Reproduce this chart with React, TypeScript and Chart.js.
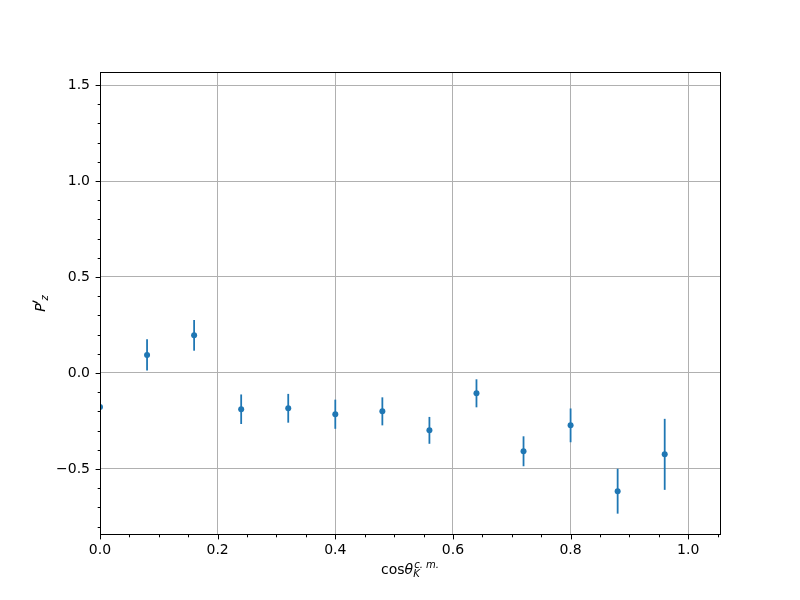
import React, { useEffect, useRef } from "react";
import { Chart, registerables } from "chart.js";

Chart.register(...registerables);

const xValues = [0, 0.08, 0.16, 0.24, 0.32, 0.4, 0.48, 0.56, 0.64, 0.72, 0.8, 0.88, 0.96];
const yValues = [-0.177, 0.094, 0.196, -0.189, -0.184, -0.215, -0.2, -0.299, -0.106, -0.408, -0.273, -0.616, -0.424];
const yErrors = [0.075, 0.081, 0.08, 0.077, 0.075, 0.076, 0.073, 0.07, 0.073, 0.078, 0.088, 0.117, 0.185];

const xTicks = [0, 0.05, 0.1, 0.15, 0.2, 0.25, 0.3, 0.35, 0.4, 0.45, 0.5, 0.55, 0.6, 0.65, 0.7, 0.75, 0.8, 0.85, 0.9, 0.95, 1.0, 1.05];
const xMajorTicks = [0, 0.2, 0.4, 0.6, 0.8, 1.0];
const yTicks = [-0.8, -0.7, -0.6, -0.5, -0.4, -0.3, -0.2, -0.1, 0, 0.1, 0.2, 0.3, 0.4, 0.5, 0.6, 0.7, 0.8, 0.9, 1.0, 1.1, 1.2, 1.3, 1.4, 1.5];
const yMajorTicks = [-0.5, 0, 0.5, 1.0, 1.5];

const X_MIN = 0;
const X_MAX = 1.054;
const Y_MIN = -0.839;
const Y_MAX = 1.568;

const COLOR = "#1f77b4";
const FONT = "DejaVu Sans";

const isMajor = (v: number, majors: number[]) => majors.some((m) => Math.abs(m - v) < 1e-9);
const fmt = (v: number) => {
  const s = Math.abs(v).toFixed(1);
  return v < -1e-9 ? "\u2212" + s : s;
};

type Piece = { text: string; font: string; dy: number; dx?: number; stackWithPrev?: boolean };

function drawPieces(ctx: CanvasRenderingContext2D, pieces: Piece[], cx: number, baseY: number) {
  const widths: number[] = [];
  pieces.forEach((p) => {
    ctx.font = p.font;
    widths.push(ctx.measureText(p.text).width + (p.dx || 0));
  });
  let total = 0;
  let prevStart = 0;
  let prevW = 0;
  const starts: number[] = [];
  pieces.forEach((p, i) => {
    if (p.stackWithPrev) {
      starts.push(prevStart);
      const extra = Math.max(0, widths[i] - prevW);
      total += extra;
      prevW = Math.max(prevW, widths[i]);
    } else {
      starts.push(total);
      prevStart = total;
      prevW = widths[i];
      total += widths[i];
    }
  });
  const x0 = cx - total / 2;
  ctx.textBaseline = "alphabetic";
  ctx.textAlign = "left";
  ctx.fillStyle = "#000";
  pieces.forEach((p, i) => {
    ctx.font = p.font;
    ctx.fillText(p.text, x0 + starts[i] + (p.dx || 0), baseY + p.dy);
  });
}

const decorPlugin = {
  id: "decor",
  beforeDatasetsDraw(chart: any) {
    const { ctx, chartArea, scales } = chart;
    const x = scales.x;
    const y = scales.y;
    ctx.save();
    ctx.beginPath();
    ctx.rect(chartArea.left, chartArea.top, chartArea.right - chartArea.left, chartArea.bottom - chartArea.top);
    ctx.clip();
    ctx.strokeStyle = COLOR;
    ctx.lineWidth = 1.8;
    xValues.forEach((xv, i) => {
      const px = x.getPixelForValue(xv);
      ctx.beginPath();
      ctx.moveTo(px, y.getPixelForValue(yValues[i] - yErrors[i]));
      ctx.lineTo(px, y.getPixelForValue(yValues[i] + yErrors[i]));
      ctx.stroke();
    });
    ctx.restore();
  },
  afterDraw(chart: any) {
    const { ctx, chartArea, scales } = chart;
    const x = scales.x;
    const y = scales.y;
    const L = chartArea.left;
    const R = chartArea.right;
    const T = chartArea.top;
    const B = chartArea.bottom;
    ctx.save();
    ctx.strokeStyle = "#000";
    ctx.lineWidth = 1;
    ctx.strokeRect(Math.round(L) + 0.5, Math.round(T) + 0.5, Math.round(R - L), Math.round(B - T));
    xTicks.forEach((v) => {
      const px = Math.round(x.getPixelForValue(v)) + 0.5;
      const len = isMajor(v, xMajorTicks) ? 4.9 : 2.8;
      ctx.beginPath();
      ctx.moveTo(px, B + 0.5);
      ctx.lineTo(px, B + 0.5 + len);
      ctx.stroke();
    });
    yTicks.forEach((v) => {
      const py = Math.round(y.getPixelForValue(v)) + 0.5;
      const len = isMajor(v, yMajorTicks) ? 4.9 : 2.8;
      ctx.beginPath();
      ctx.moveTo(L + 0.5, py);
      ctx.lineTo(L + 0.5 - len, py);
      ctx.stroke();
    });
    drawPieces(
      ctx,
      [
        { text: "cos", font: `14px "${FONT}"`, dy: 0 },
        { text: "\u03b8", font: `italic 14px "${FONT}"`, dy: 0 },
        { text: "K", font: `italic 10px "${FONT}"`, dy: 3 },
        { text: "c. m.", font: `italic 10px "${FONT}"`, dy: -6, stackWithPrev: true, dx: 1 },
      ],
      (L + R) / 2,
      574
    );
    // y title: P'_z rotated
    ctx.translate(45, (T + B) / 2);
    ctx.rotate(-Math.PI / 2);
    ctx.fillStyle = "#000";
    ctx.textBaseline = "alphabetic";
    ctx.textAlign = "left";
    ctx.font = `italic 14px "${FONT}"`;
    const wP = ctx.measureText("P").width;
    ctx.font = `italic 10px "${FONT}"`;
    const wz = ctx.measureText("z").width;
    const total = wP + 4 + wz;
    const x0 = -total / 2;
    ctx.font = `italic 14px "${FONT}"`;
    ctx.fillText("P", x0, 0);
    ctx.strokeStyle = "#000";
    ctx.lineWidth = 1.2;
    ctx.beginPath();
    ctx.moveTo(x0 + wP + 0.5, -7.5);
    ctx.lineTo(x0 + wP + 2.5, -12.5);
    ctx.stroke();
    ctx.font = `italic 10px "${FONT}"`;
    ctx.fillText("z", x0 + wP + 3, 3);
    ctx.restore();
  },
};

export default function App() {
  const ref = useRef<HTMLCanvasElement | null>(null);
  useEffect(() => {
    document.body.style.margin = "0";
    const canvas = ref.current;
    if (!canvas) return;
    const chart = new Chart(canvas, {
      type: "scatter",
      data: {
        datasets: [
          {
            data: xValues.map((xv, i) => ({ x: xv, y: yValues[i] })),
            pointRadius: 3,
            pointHoverRadius: 3,
            backgroundColor: COLOR,
            borderColor: COLOR,
            borderWidth: 0,
            clip: 0,
          } as any,
        ],
      },
      options: {
        animation: false,
        responsive: false,
        devicePixelRatio: 1,
        layout: { padding: { top: 72, right: 80, left: 0, bottom: 0 } },
        plugins: { legend: { display: false }, tooltip: { enabled: false } },
        events: [],
        scales: {
          x: {
            type: "linear",
            min: X_MIN,
            max: X_MAX,
            afterBuildTicks: (scale: any) => {
              scale.ticks = xTicks.map((v) => ({ value: v }));
            },
            afterFit: (scale: any) => {
              scale.height = 66;
            },
            border: { display: false },
            grid: {
              drawTicks: false,
              lineWidth: 1,
              color: (c: any) => (c.tick && isMajor(c.tick.value, xMajorTicks) ? "#b0b0b0" : "rgba(0,0,0,0)"),
            },
            ticks: {
              autoSkip: false,
              maxRotation: 0,
              padding: 8,
              color: "#000",
              font: { family: FONT, size: 14 },
              callback: (v: any) => (isMajor(Number(v), xMajorTicks) ? fmt(Number(v)) : ""),
            },
          },
          y: {
            type: "linear",
            min: Y_MIN,
            max: Y_MAX,
            afterBuildTicks: (scale: any) => {
              scale.ticks = yTicks.map((v) => ({ value: v }));
            },
            afterFit: (scale: any) => {
              scale.width = 100;
            },
            border: { display: false },
            grid: {
              drawTicks: false,
              lineWidth: 1,
              color: (c: any) => (c.tick && isMajor(c.tick.value, yMajorTicks) ? "#b0b0b0" : "rgba(0,0,0,0)"),
            },
            ticks: {
              autoSkip: false,
              padding: 10,
              color: "#000",
              font: { family: FONT, size: 14 },
              callback: (v: any) => (isMajor(Number(v), yMajorTicks) ? fmt(Number(v)) : ""),
            },
          },
        },
      },
      plugins: [decorPlugin],
    } as any);
    return () => chart.destroy();
  }, []);
  return (
    <div style={{ position: "absolute", left: 0, top: 0, width: 800, height: 600, background: "#fff" }}>
      <canvas ref={ref} width={800} height={600} style={{ width: 800, height: 600 }} />
    </div>
  );
}
